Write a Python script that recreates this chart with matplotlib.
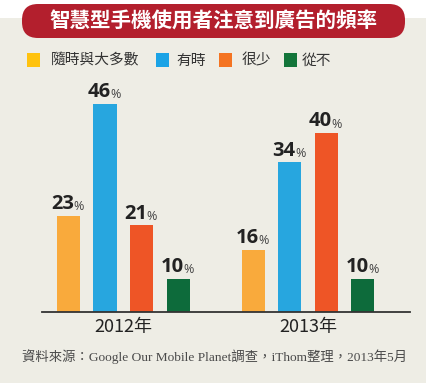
import matplotlib
matplotlib.use("Agg")
import matplotlib.pyplot as plt
from matplotlib.patches import FancyBboxPatch, Rectangle
import numpy as np

plt.rcParams['font.family'] = ['Noto Sans CJK TC', 'DejaVu Sans']

title = "智慧型手機使用者注意到廣告的頻率"
years = ["2012年", "2013年"]
categories = ["隨時與大多數", "有時", "很少", "從不"]
values_2012 = [23, 46, 21, 10]
values_2013 = [16, 34, 40, 10]
source = "資料來源：Google Our Mobile Planet調查，iThom整理，2013年5月"

bar_colors = ["#F9AA3C", "#27A6DF", "#EE5526", "#0D6B3B"]
legend_colors = ["#FFC20E", "#1BA3E6", "#F47422", "#13753A"]

W, H = 430, 384
fig = plt.figure(figsize=(W / 100, H / 100), dpi=100)
fig.patch.set_facecolor("white")

# decoration layer in pixel coordinates
deco = fig.add_axes([0, 0, 1, 1], zorder=0)
deco.set_xlim(0, W)
deco.set_ylim(H, 0)
deco.axis("off")

deco.add_patch(Rectangle((0, 18), 426, 365, facecolor="#EEEDE5", edgecolor="none"))
deco.add_patch(FancyBboxPatch((22, 4), 383, 34, boxstyle="round,pad=0,rounding_size=16",
                              facecolor="#B31F2D", edgecolor="none"))
deco.text(213.5, 21, title, color="white", fontsize=14.8, fontweight="heavy",
          ha="center", va="center")

sw_x = [27, 156, 219, 284]
tx_x = [51, 176, 242, 302]
for c, sx, tx, lab in zip(legend_colors, sw_x, tx_x, categories):
    deco.add_patch(Rectangle((sx, 53), 13, 14, facecolor=c, edgecolor="none"))
    deco.text(tx, 60.5, lab, color="#333333", fontsize=10.6, fontweight="medium",
              ha="left", va="center")

deco.text(215, 357, source, color="#4a4a4a", fontsize=9.6, ha="center", va="center",
          family=["Liberation Serif", "Noto Sans CJK TC"])

# chart axes
ax_left, ax_right = 42, 410
ax_bottom, ax_top = 312, 84.5
ax = fig.add_axes([ax_left / W, 1 - ax_bottom / H, (ax_right - ax_left) / W,
                   (ax_bottom - ax_top) / H], zorder=1)
ax.set_facecolor("none")

x = np.arange(len(years))
offsets = (np.arange(len(categories)) - 1.5) * 0.198
width = 0.125
for i, c in enumerate(bar_colors):
    vals = [values_2012[i], values_2013[i]]
    bars = ax.bar(x + offsets[i], vals, width=width, color=c, zorder=2)
    for b, v in zip(bars, vals):
        cx = b.get_x() + b.get_width() / 2
        ax.annotate(str(v), (cx, v), xytext=(4.2, 1.2), textcoords="offset points",
                    ha="right", va="bottom", fontsize=14.5, fontweight="bold",
                    color="#222222", family=["Open Sans", "DejaVu Sans"])
        ax.annotate("%", (cx, v), xytext=(3.8, 1.8), textcoords="offset points",
                    ha="left", va="bottom", fontsize=9, color="#444444",
                    family=["Open Sans", "DejaVu Sans"])

ax.set_xlim(-0.44, 1.553)
ax.set_ylim(3.2, 50)
for s in ["top", "right", "left"]:
    ax.spines[s].set_visible(False)
ax.spines["bottom"].set_color("#333333")
ax.spines["bottom"].set_linewidth(1.3)
ax.set_yticks([])
ax.set_xticks(x)
ax.set_xticklabels(years, fontsize=13, color="#222222")
ax.tick_params(axis="x", length=0, pad=4)

fig.savefig("out.png", dpi=100, facecolor=fig.get_facecolor())
